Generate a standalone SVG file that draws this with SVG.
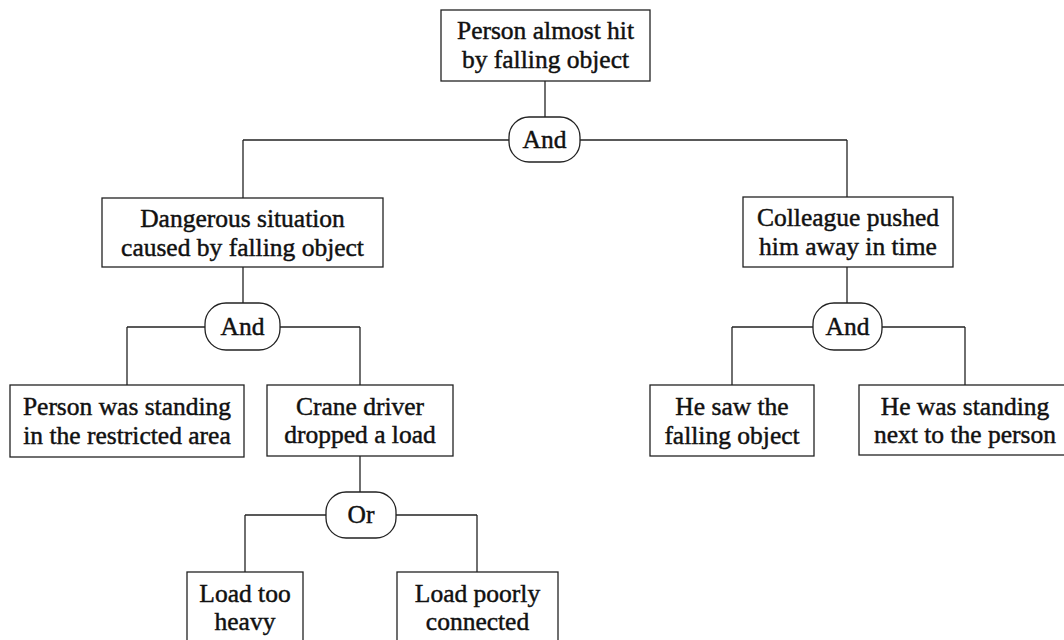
<svg xmlns="http://www.w3.org/2000/svg" width="1064" height="640" viewBox="0 0 1064 640">
<style>
  .box { fill: #ffffff; stroke: #222222; stroke-width: 1.3; }
  .gate { fill: #ffffff; stroke: #222222; stroke-width: 1.3; }
  .lbl { font-family: "Liberation Serif", "Times New Roman", serif; font-size: 25.5px; fill: #111111; stroke: #111111; stroke-width: 0.45; text-anchor: middle; }
  .conn line { stroke: #222222; stroke-width: 1.3; fill: none; }
</style>
<rect width="1064" height="640" fill="#ffffff"/>

<g id="connectors" class="conn">
  <line x1="545" y1="81" x2="545" y2="117"/>
  <line x1="243" y1="140" x2="509" y2="140"/>
  <line x1="580" y1="140" x2="847" y2="140"/>
  <line x1="243" y1="140" x2="243" y2="198"/>
  <line x1="847" y1="140" x2="847" y2="197"/>

  <line x1="243" y1="267" x2="243" y2="303"/>
  <line x1="127" y1="327" x2="205" y2="327"/>
  <line x1="280" y1="327" x2="360" y2="327"/>
  <line x1="127" y1="327" x2="127" y2="385"/>
  <line x1="360" y1="327" x2="360" y2="385"/>

  <line x1="360" y1="456" x2="360" y2="492"/>
  <line x1="245" y1="515" x2="326" y2="515"/>
  <line x1="396" y1="515" x2="477" y2="515"/>
  <line x1="245" y1="515" x2="245" y2="572"/>
  <line x1="477" y1="515" x2="477" y2="572"/>

  <line x1="847" y1="267" x2="847" y2="303"/>
  <line x1="732" y1="327" x2="813" y2="327"/>
  <line x1="882" y1="327" x2="965" y2="327"/>
  <line x1="732" y1="327" x2="732" y2="385"/>
  <line x1="965" y1="327" x2="965" y2="385"/>
</g>

<g id="top-event">
  <rect class="box" x="441" y="10" width="209" height="71"/>
  <text class="lbl" x="545.5" y="39">Person almost hit</text>
  <text class="lbl" x="545.5" y="68">by falling object</text>
</g>

<g id="gate-and-1">
  <rect class="gate" x="509" y="117" width="71" height="45" rx="20" ry="20"/>
  <text class="lbl" x="544.5" y="148">And</text>
</g>

<g id="dangerous-situation">
  <rect class="box" x="102" y="198" width="281" height="69"/>
  <text class="lbl" x="242.5" y="227">Dangerous situation</text>
  <text class="lbl" x="242.5" y="256">caused by falling object</text>
</g>

<g id="colleague-pushed">
  <rect class="box" x="743" y="197" width="210" height="70"/>
  <text class="lbl" x="848" y="226">Colleague pushed</text>
  <text class="lbl" x="848" y="255">him away in time</text>
</g>

<g id="gate-and-2">
  <rect class="gate" x="205" y="303" width="75" height="47" rx="21" ry="21"/>
  <text class="lbl" x="242.5" y="335">And</text>
</g>

<g id="gate-and-3">
  <rect class="gate" x="813" y="303" width="69" height="47" rx="21" ry="21"/>
  <text class="lbl" x="847.5" y="335">And</text>
</g>

<g id="person-standing">
  <rect class="box" x="10" y="385" width="234" height="72"/>
  <text class="lbl" x="127" y="415">Person was standing</text>
  <text class="lbl" x="127" y="444">in the restricted area</text>
</g>

<g id="crane-driver">
  <rect class="box" x="267" y="385" width="186" height="71"/>
  <text class="lbl" x="360" y="415">Crane driver</text>
  <text class="lbl" x="360" y="443">dropped a load</text>
</g>

<g id="he-saw">
  <rect class="box" x="650" y="385" width="164" height="71"/>
  <text class="lbl" x="732" y="415">He saw the</text>
  <text class="lbl" x="732" y="444">falling object</text>
</g>

<g id="he-was-standing">
  <rect class="box" x="859" y="385" width="212" height="70"/>
  <text class="lbl" x="965" y="415">He was standing</text>
  <text class="lbl" x="965" y="443">next to the person</text>
</g>

<g id="gate-or">
  <rect class="gate" x="326" y="492" width="70" height="46" rx="20" ry="20"/>
  <text class="lbl" x="361" y="523">Or</text>
</g>

<g id="load-too-heavy">
  <rect class="box" x="187" y="572" width="116" height="72"/>
  <text class="lbl" x="245" y="602">Load too</text>
  <text class="lbl" x="245" y="630">heavy</text>
</g>

<g id="load-poorly-connected">
  <rect class="box" x="397" y="572" width="161" height="72"/>
  <text class="lbl" x="477.5" y="602">Load poorly</text>
  <text class="lbl" x="477.5" y="630">connected</text>
</g>
</svg>
